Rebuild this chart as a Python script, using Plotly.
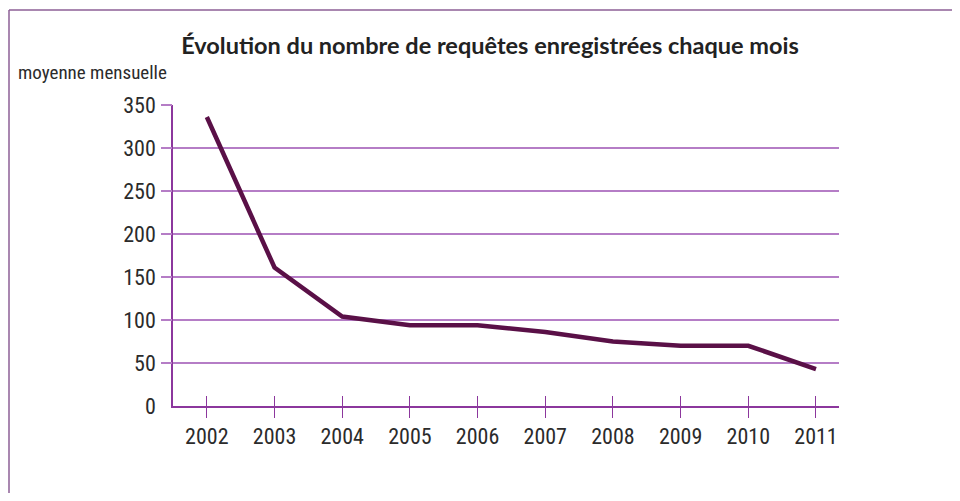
import plotly.graph_objects as go

# ---- data ----
years = [2002, 2003, 2004, 2005, 2006, 2007, 2008, 2009, 2010, 2011]
requetes = [336, 161, 104, 94, 94, 86, 75, 70, 70, 43]
y_tick_vals = [0, 50, 100, 150, 200, 250, 300, 350]
y_tick_vals_ext = [50, 100, 150, 200, 250, 300, 350]
title_text = "Évolution du nombre de requêtes enregistrées chaque mois"
y_title = "moyenne mensuelle"

# figure sits inside the page body (8px default margin)
W, H = 944, 485
ML, MR, MT, MB = 165, 113, 97, 87
PW, PH = W - ML - MR, H - MT - MB

LINE_COL = "#5a1047"
GRID_COL = "#b57dc6"
AXIS_COL = "#8c379d"
TEXT_COL = "#2b2b2b"
FRAME_COL = "#8d5f96"
NARROW = "Liberation Sans Narrow, Roboto Condensed, Liberation Sans, sans-serif"

def px_x(p):
    return (p - ML) / PW

def px_y(p):
    return (H - MB - p) / PH

fig = go.Figure()
fig.add_trace(go.Scatter(
    x=years, y=requetes, mode="lines",
    line=dict(color=LINE_COL, width=4.5),
    hoverinfo="x+y", showlegend=False,
))
# invisible companion trace for the overlay axes (crossing tick marks)
fig.add_trace(go.Scatter(
    x=years, y=requetes, mode="lines", xaxis="x2", yaxis="y2",
    line=dict(color="rgba(0,0,0,0)", width=0), hoverinfo="skip", showlegend=False,
))

xr = [2001.5, 2011.34]
yr = [0, 350]

fig.update_layout(
    width=W, height=H,
    margin=dict(l=ML, r=MR, t=MT, b=MB),
    paper_bgcolor="white", plot_bgcolor="white",
    title=dict(
        text="<b>" + title_text + "</b>",
        x=482 / W, xanchor="center", xref="container",
        y=1 - 38 / H, yanchor="middle", yref="container",
        font=dict(family="Lato, Open Sans, sans-serif", size=23.5, color="#222222"),
    ),
    xaxis=dict(
        range=xr, tickvals=years, ticktext=[str(y) for y in years],
        showgrid=False, zeroline=False,
        showline=True, linecolor=AXIS_COL, linewidth=1.5,
        ticks="outside", ticklen=10, tickwidth=1.3, tickcolor=AXIS_COL,
        tickfont=dict(family=NARROW, size=22, color=TEXT_COL),
        fixedrange=True,
    ),
    xaxis2=dict(
        range=xr, tickvals=years, overlaying="x", anchor="y",
        showgrid=False, zeroline=False, showline=False,
        ticks="inside", ticklen=10, tickwidth=1.3, tickcolor=AXIS_COL,
        showticklabels=False, fixedrange=True,
    ),
    yaxis=dict(
        range=yr, tickvals=y_tick_vals,
        showgrid=True, gridcolor=GRID_COL, gridwidth=1.5,
        zeroline=False,
        showline=True, linecolor=AXIS_COL, linewidth=1.5,
        ticks="outside", ticklen=11, tickwidth=1.5, tickcolor="rgba(0,0,0,0)",
        tickfont=dict(family=NARROW, size=22, color=TEXT_COL),
        fixedrange=True,
    ),
    yaxis2=dict(
        range=yr, tickvals=y_tick_vals_ext, overlaying="y", anchor="x",
        side="left", showgrid=False, zeroline=False, showline=False,
        ticks="outside", ticklen=11, tickwidth=1.5, tickcolor=GRID_COL,
        showticklabels=False, fixedrange=True,
    ),
    annotations=[dict(
        text=y_title, xref="paper", yref="paper",
        x=px_x(8), y=px_y(64), xanchor="left", yanchor="middle",
        showarrow=False,
        font=dict(family=NARROW, size=19, color=TEXT_COL),
    )],
    shapes=[
        dict(type="line", xref="paper", yref="paper", layer="below",
             x0=px_x(1), x1=px_x(W), y0=px_y(2), y1=px_y(2),
             line=dict(color=FRAME_COL, width=1.5)),
        dict(type="line", xref="paper", yref="paper", layer="below",
             x0=px_x(1), x1=px_x(1), y0=px_y(2), y1=px_y(H),
             line=dict(color=FRAME_COL, width=1.5)),
    ],
)

fig.write_html("out.html")
